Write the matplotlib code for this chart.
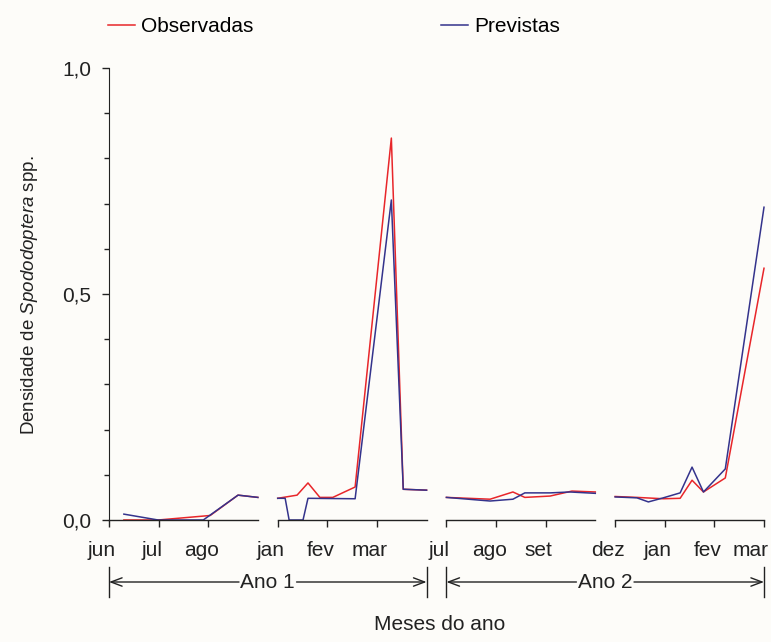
import matplotlib.pyplot as plt
import matplotlib.transforms as mtransforms
from matplotlib.lines import Line2D

plt.rcParams['font.family'] = ['Liberation Sans', 'DejaVu Sans']
plt.rcParams['mathtext.fontset'] = 'custom'
plt.rcParams['mathtext.rm'] = 'Liberation Sans'
plt.rcParams['mathtext.it'] = 'Liberation Sans:italic'

# Data: four sampling periods, x = months since start of each period
seg_ticks = [['jun', 'jul', 'ago'],
             ['jan', 'fev', 'mar'],
             ['jul', 'ago', 'set'],
             ['dez', 'jan', 'fev', 'mar']]

obs_x = [[0.30, 0.99, 2.04, 2.60, 3.0],
         [0.0, 0.39, 0.61, 0.85, 1.11, 1.56, 2.29, 2.53, 3.0],
         [0.0, 0.88, 1.34, 1.58, 2.09, 2.53, 3.0],
         [0.0, 0.44, 0.97, 1.31, 1.55, 1.78, 2.22, 3.0]]
obs_y = [[0.0, 0.0, 0.010, 0.055, 0.050],
         [0.048, 0.055, 0.082, 0.050, 0.050, 0.073, 0.845, 0.068, 0.066],
         [0.050, 0.046, 0.062, 0.050, 0.053, 0.064, 0.062],
         [0.052, 0.050, 0.047, 0.048, 0.088, 0.062, 0.093, 0.557]]

prev_x = [[0.30, 0.99, 1.90, 2.60, 3.0],
          [0.0, 0.15, 0.23, 0.51, 0.61, 1.56, 2.29, 2.53, 3.0],
          [0.0, 0.88, 1.34, 1.58, 2.09, 2.49, 3.0],
          [0.0, 0.44, 0.67, 0.97, 1.31, 1.55, 1.78, 2.22, 3.0]]
prev_y = [[0.013, 0.0, 0.0, 0.055, 0.050],
          [0.048, 0.048, 0.0, 0.0, 0.048, 0.047, 0.708, 0.068, 0.066],
          [0.050, 0.042, 0.046, 0.060, 0.060, 0.062, 0.059],
          [0.051, 0.049, 0.040, 0.049, 0.060, 0.117, 0.062, 0.113, 0.692]]

years = ['Ano 1', 'Ano 2']

SEG_LEN = 3.0
GAP = 0.4
RED = '#e8262a'
BLUE = '#34338c'
BG = '#fdfcf9'
INK = '#222222'

fig = plt.figure(figsize=(7.71, 6.42), dpi=100, facecolor=BG)
ax = fig.add_axes([109 / 771, 1 - 520 / 642, 655 / 771, 452 / 642])
ax.set_facecolor(BG)
xmax = 4 * SEG_LEN + 3 * GAP

trans = mtransforms.blended_transform_factory(ax.transData, fig.transFigure)
y_lab = 1 - 551 / 642

major_pos = []
for i in range(4):
    x0 = i * (SEG_LEN + GAP)
    ax.plot([x0 + v for v in obs_x[i]], obs_y[i], color=RED, lw=1.1, clip_on=False)
    ax.plot([x0 + v for v in prev_x[i]], prev_y[i], color=BLUE, lw=1.1, clip_on=False)
    # broken x axis segment
    ax.plot([x0, x0 + SEG_LEN], [0, 0], color=INK, lw=1.0, clip_on=False)
    for k, lab in enumerate(seg_ticks[i]):
        major_pos.append(x0 + k)
        shift = 0.27 if (i == 3 and k == len(seg_ticks[i]) - 1) else 0.14
        ax.text(x0 + k - shift, y_lab, lab, transform=trans, ha='center', va='center',
                fontsize=15, color=INK)

ax.set_xticks(major_pos)
ax.set_xticklabels([])
ax.tick_params(axis='x', which='major', direction='out', length=5, width=1, color=INK)

ax.set_yticks([0, 0.5, 1.0])
ax.set_yticklabels(['0,0', '0,5', '1,0'], fontsize=15, color=INK)
ax.set_yticks([0.1, 0.2, 0.3, 0.4, 0.6, 0.7, 0.8, 0.9], minor=True)
ax.tick_params(axis='y', which='major', direction='out', length=5, width=1, color=INK, pad=8)
ax.tick_params(axis='y', which='minor', direction='out', length=3.5, width=1, color=INK)

ax.set_xlim(0, xmax)
ax.set_ylim(0, 1.0)
for s in ['top', 'right', 'bottom']:
    ax.spines[s].set_visible(False)
ax.spines['left'].set_color(INK)

# year arrows below the axis
y_arr = 1 - 582 / 642
y_lo, y_hi = 1 - 597 / 642, 1 - 567 / 642
astyle = dict(arrowstyle='->,head_length=0.8,head_width=0.3', color=INK, lw=1.0, shrinkA=0, shrinkB=0)
for j, name in enumerate(years):
    xs = j * 2 * (SEG_LEN + GAP)
    xe = xs + 2 * SEG_LEN + GAP
    xc = (xs + xe) / 2
    half = 0.58
    ax.plot([xs, xs], [y_lo, y_hi], color=INK, lw=1.0, transform=trans, clip_on=False)
    ax.plot([xe, xe], [y_lo, y_hi], color=INK, lw=1.0, transform=trans, clip_on=False)
    ax.annotate('', xy=(xs, y_arr), xytext=(xc - half, y_arr), xycoords=trans, textcoords=trans,
                arrowprops=astyle)
    ax.annotate('', xy=(xe, y_arr), xytext=(xc + half, y_arr), xycoords=trans, textcoords=trans,
                arrowprops=astyle)
    ax.text(xc, y_arr, name, transform=trans, ha='center', va='center', fontsize=15, color=INK)

ax.set_xlim(0, xmax)

fig.text(440 / 771, 1 - 625 / 642, 'Meses do ano', ha='center', va='center', fontsize=15, color=INK)
fig.text(30 / 771, 1 - 295 / 642, r'Densidade de $\mathit{Spododoptera}$ spp.', rotation=90,
         ha='center', va='center', fontsize=13.5, color=INK)

handles = [Line2D([], [], color=RED, lw=1.1), Line2D([], [], color=BLUE, lw=1.1)]
fig.legend(handles, ['Observadas', 'Previstas'], loc='center left',
           bbox_to_anchor=(108 / 771, 1 - 27 / 642), ncol=2, frameon=False, fontsize=15,
           handlelength=1.3, handletextpad=0.3, columnspacing=9.0, borderpad=0, borderaxespad=0)

fig.savefig('out.png', dpi=100, facecolor=BG)
